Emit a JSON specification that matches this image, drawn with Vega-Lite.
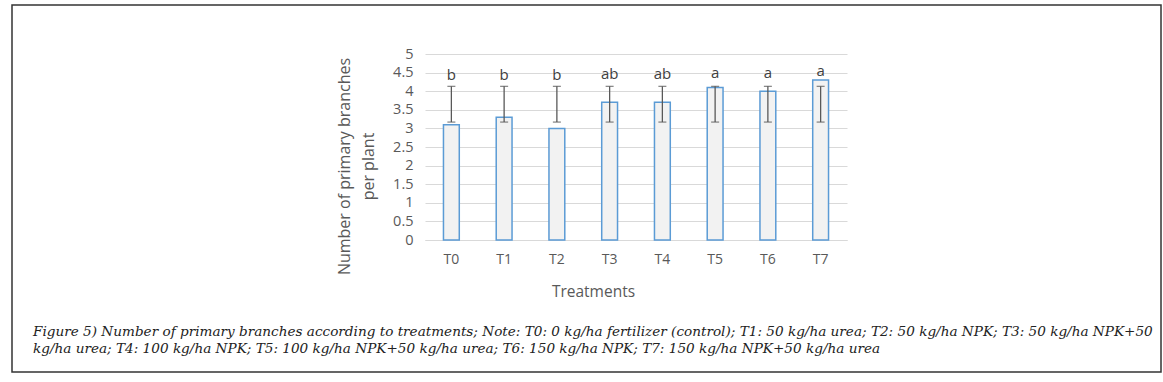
{
  "$schema": "https://vega.github.io/schema/vega-lite/v6.json",
  "width": 1149,
  "height": 367,
  "autosize": {"type": "none"},
  "padding": {"left": 12, "top": 5, "right": 2, "bottom": 10},
  "background": "white",
  "config": {
    "view": {"stroke": "#333333", "strokeWidth": 1.5},
    "font": "Open Sans"
  },
  "title": {
    "text": [
      "Figure 5) Number of primary branches according to treatments; Note: T0: 0 kg/ha fertilizer (control); T1: 50 kg/ha urea; T2: 50 kg/ha NPK; T3: 50 kg/ha NPK+50",
      "kg/ha urea; T4: 100 kg/ha NPK; T5: 100 kg/ha NPK+50 kg/ha urea; T6: 150 kg/ha NPK; T7: 150 kg/ha NPK+50 kg/ha urea"
    ],
    "orient": "bottom",
    "anchor": "start",
    "frame": "group",
    "offset": -47,
    "dx": 21,
    "font": "DejaVu Serif",
    "fontStyle": "italic",
    "fontWeight": "normal",
    "fontSize": 13.6,
    "lineHeight": 17,
    "color": "#222222"
  },
  "data": {
    "values": [
      {"t": "T0", "v": 3.1, "lo": 3.17, "hi": 4.13, "sig": "b", "ly": 4.3},
      {"t": "T1", "v": 3.3, "lo": 3.17, "hi": 4.13, "sig": "b", "ly": 4.3},
      {"t": "T2", "v": 3.0, "lo": 3.17, "hi": 4.13, "sig": "b", "ly": 4.3},
      {"t": "T3", "v": 3.7, "lo": 3.17, "hi": 4.13, "sig": "ab", "ly": 4.32},
      {"t": "T4", "v": 3.7, "lo": 3.17, "hi": 4.13, "sig": "ab", "ly": 4.32},
      {"t": "T5", "v": 4.1, "lo": 3.17, "hi": 4.13, "sig": "a", "ly": 4.36},
      {"t": "T6", "v": 4.0, "lo": 3.17, "hi": 4.13, "sig": "a", "ly": 4.36},
      {"t": "T7", "v": 4.3, "lo": 3.17, "hi": 4.13, "sig": "a", "ly": 4.42}
    ]
  },
  "resolve": {"axis": {"y": "independent"}},
  "encoding": {
    "x": {
      "field": "t",
      "type": "nominal",
      "sort": null,
      "scale": {"range": [413, 835], "paddingInner": 0.7, "paddingOuter": 0.35},
      "axis": {
        "orient": "bottom",
        "offset": -132,
        "title": "Treatments",
        "titleFont": "Open Sans",
        "titleFontSize": 15.5,
        "titleFontWeight": "normal",
        "titleColor": "#595959",
        "titleX": 581,
        "titlePadding": 18,
        "labelAngle": 0,
        "labelFontSize": 14,
        "labelColor": "#595959",
        "labelPadding": 12,
        "ticks": false,
        "domain": true,
        "domainColor": "#d9d9d9",
        "domainWidth": 1,
        "grid": false
      }
    }
  },
  "layer": [
    {
      "mark": {"type": "bar", "fill": "#f2f2f2", "stroke": "#5b9bd5", "strokeWidth": 1.5},
      "encoding": {
        "y": {
          "field": "v",
          "type": "quantitative",
          "scale": {"domain": [0, 5], "range": [235, 49], "nice": false, "zero": true},
          "axis": {
            "orient": "left",
            "offset": -413,
            "values": [0, 0.5, 1, 1.5, 2, 2.5, 3, 3.5, 4, 4.5, 5],
            "format": "~g",
            "title": ["Number of primary branches", "per plant"],
            "titleFont": "Open Sans",
            "titleFontSize": 16,
            "titleFontWeight": "normal",
            "titleColor": "#595959",
            "titleLineHeight": 24,
            "titleY": 161,
            "titlePadding": 16,
            "labelFontSize": 14.5,
            "labelColor": "#595959",
            "labelPadding": 12,
            "ticks": false,
            "domain": false,
            "grid": true,
            "gridColor": "#d9d9d9",
            "gridWidth": 1
          }
        }
      }
    },
    {
      "mark": {"type": "rule", "color": "#595959", "strokeWidth": 1.3},
      "encoding": {
        "y": {"field": "lo", "type": "quantitative", "axis": null},
        "y2": {"field": "hi"}
      }
    },
    {
      "mark": {"type": "tick", "color": "#595959", "thickness": 1.3, "size": 8},
      "encoding": {
        "y": {"field": "lo", "type": "quantitative", "axis": null}
      }
    },
    {
      "mark": {"type": "tick", "color": "#595959", "thickness": 1.3, "size": 8},
      "encoding": {
        "y": {"field": "hi", "type": "quantitative", "axis": null}
      }
    },
    {
      "mark": {"type": "text", "baseline": "alphabetic", "align": "center", "fontSize": 15, "color": "#404040", "font": "Open Sans"},
      "encoding": {
        "y": {"field": "ly", "type": "quantitative", "axis": null},
        "text": {"field": "sig"}
      }
    }
  ]
}
